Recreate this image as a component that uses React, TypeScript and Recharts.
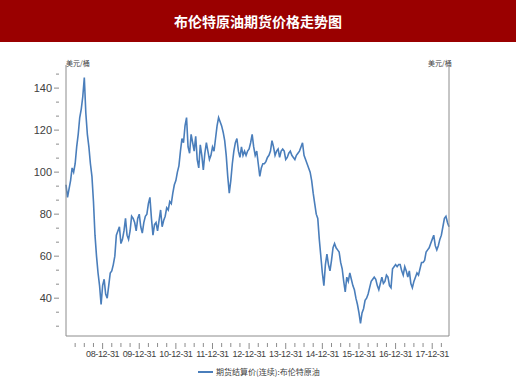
import { CartesianGrid, Line, LineChart, XAxis, YAxis } from "recharts";

// Brent futures settlement, two readings per month (start / mid-month), USD per barrel
const brent2008 = [94, 88, 92, 96, 102, 100, 104, 112, 118, 126, 130, 136, 145, 128, 118, 112, 104, 98, 86, 70, 60, 52, 46, 37];
const brent2009 = [46, 49, 42, 40, 46, 52, 53, 56, 60, 70, 72, 74, 66, 68, 72, 78, 70, 68, 72, 79, 78, 76, 72, 78];
const brent2010 = [80, 74, 71, 76, 79, 80, 85, 88, 78, 70, 75, 76, 72, 77, 82, 74, 77, 79, 83, 82, 86, 85, 90, 94];
const brent2011 = [96, 100, 103, 110, 116, 114, 122, 126, 112, 109, 118, 114, 110, 117, 106, 102, 113, 108, 101, 109, 114, 110, 106, 108];
const brent2012 = [112, 110, 116, 122, 126, 124, 122, 119, 115, 108, 98, 90, 96, 104, 110, 114, 116, 110, 107, 112, 108, 110, 108, 110];
const brent2013 = [111, 114, 118, 112, 108, 110, 104, 98, 102, 104, 104, 105, 107, 108, 110, 115, 112, 108, 110, 111, 107, 110, 111, 110];
const brent2014 = [106, 107, 109, 110, 108, 107, 106, 108, 109, 110, 112, 114, 108, 106, 104, 102, 100, 96, 90, 85, 80, 78, 68, 60];
const brent2015 = [52, 46, 56, 61, 56, 53, 58, 64, 66, 64, 63, 62, 57, 54, 48, 43, 50, 48, 52, 49, 46, 44, 40, 37];
const brent2016 = [33, 28, 33, 35, 39, 40, 42, 45, 48, 49, 50, 49, 46, 44, 47, 50, 47, 48, 51, 50, 46, 45, 54, 55];
const brent2017 = [56, 55, 56, 56, 53, 51, 55, 53, 50, 53, 47, 45, 48, 50, 52, 51, 54, 57, 57, 58, 62, 63, 64, 66];
const brent2018 = [68, 70, 65, 63, 65, 68, 70, 74, 78, 79, 76, 74];

const years = [2008, 2009, 2010, 2011, 2012, 2013, 2014, 2015, 2016, 2017, 2018];
const yearValues = [brent2008, brent2009, brent2010, brent2011, brent2012, brent2013, brent2014, brent2015, brent2016, brent2017, brent2018];

// x is months since 2008-01-01
const xMajorTicks = [12, 24, 36, 48, 60, 72, 84, 96, 108, 120];
const xTickLabels = ["08-12-31", "09-12-31", "10-12-31", "11-12-31", "12-12-31", "13-12-31", "14-12-31", "15-12-31", "16-12-31", "17-12-31"];
const xMinorTicks = [3, 6, 9, 15, 18, 21, 27, 30, 33, 39, 42, 45, 51, 54, 57, 63, 66, 69, 75, 78, 81, 87, 90, 93, 99, 102, 105, 111, 114, 117, 123];

const yMajorTicks = [40, 60, 80, 100, 120, 140];
const yMinorTicks = [26.67, 33.33, 46.67, 53.33, 66.67, 73.33, 86.67, 93.33, 106.67, 113.33, 126.67, 133.33, 146.67];

const data = years.flatMap((y, yi) =>
  yearValues[yi].map((v, i) => ({ t: (y - 2008) * 12 + i / 2, price: v }))
);

const tickFont = "'Liberation Sans', Arial, sans-serif";
const cjk = "'Noto Sans CJK SC', sans-serif";

function XTick({ x, y, payload }: any) {
  const idx = xMajorTicks.indexOf(payload.value);
  const major = idx >= 0;
  return (
    <g>
      <line x1={x} x2={x} y1={y - 1} y2={y + (major ? 5 : 3)} stroke="#8c8c8c" />
      {major && (
        <text
          x={x}
          y={y + 13}
          textAnchor="middle"
          fontSize={9}
          letterSpacing={-0.35}
          fill="#404040"
          fontFamily={tickFont}
        >
          {xTickLabels[idx]}
        </text>
      )}
    </g>
  );
}

function YTick({ x, y, payload, side }: any) {
  const major = yMajorTicks.includes(payload.value);
  const dir = side === "left" ? -1 : 1;
  return (
    <g>
      <line x1={x - dir} x2={x + dir * (major ? 4 : 2)} y1={y} y2={y} stroke="#8c8c8c" />
      {major && (
        <text
          x={x + dir * 6}
          y={y + 4}
          textAnchor={side === "left" ? "end" : "start"}
          fontSize={11}
          fill="#404040"
          fontFamily={tickFont}
        >
          {payload.value}
        </text>
      )}
    </g>
  );
}

export default function App() {
  const yTicks = [...yMajorTicks, ...yMinorTicks].sort((a, b) => a - b);
  const xTicks = [...xMajorTicks, ...xMinorTicks].sort((a, b) => a - b);
  return (
    <div style={{ position: "absolute", left: 0, top: 0, width: 520, height: 380, background: "#fff" }}>
      <div
        style={{
          width: 516,
          height: 42,
          background: "#9a0000",
          color: "#fff",
          fontFamily: cjk,
          fontWeight: 700,
          fontSize: 14,
          lineHeight: "42px",
          textAlign: "center",
        }}
      >
        布伦特原油期货价格走势图
      </div>
      <div style={{ position: "absolute", left: 66, top: 58, fontSize: 7, color: "#404040", fontFamily: cjk }}>美元/桶</div>
      <div style={{ position: "absolute", left: 428, top: 58, fontSize: 7, color: "#404040", fontFamily: cjk }}>美元/桶</div>
      <LineChart width={520} height={338} data={data} margin={{ top: 23, right: 31, bottom: 14, left: 26 }}>
        <CartesianGrid horizontal vertical={false} horizontalValues={yMajorTicks} stroke="#ececec" />
        <XAxis
          dataKey="t"
          type="number"
          domain={[0, 125.5]}
          ticks={xTicks}
          interval={0}
          height={30}
          stroke="#8c8c8c"
          tickLine={false}
          tick={<XTick />}
        />
        <YAxis
          yAxisId="left"
          orientation="left"
          width={40}
          domain={[22, 151]}
          ticks={yTicks}
          interval={0}
          stroke="#8c8c8c"
          tickLine={false}
          tick={<YTick side="left" />}
        />
        <YAxis
          yAxisId="right"
          orientation="right"
          width={40}
          domain={[22, 151]}
          ticks={yTicks}
          interval={0}
          stroke="#8c8c8c"
          tickLine={false}
          tick={<YTick side="right" />}
        />
        <Line
          yAxisId="left"
          type="linear"
          dataKey="price"
          stroke="#4a7ebb"
          strokeWidth={1.6}
          dot={false}
          isAnimationActive={false}
        />
      </LineChart>
      <div
        style={{
          position: "absolute",
          left: 198,
          top: 366,
          display: "flex",
          alignItems: "center",
          fontFamily: cjk,
          fontSize: 8,
          color: "#404040",
        }}
      >
        <span style={{ display: "inline-block", width: 15, height: 2, background: "#4a7ebb", marginRight: 3 }} />
        期货结算价(连续):布伦特原油
      </div>
    </div>
  );
}
